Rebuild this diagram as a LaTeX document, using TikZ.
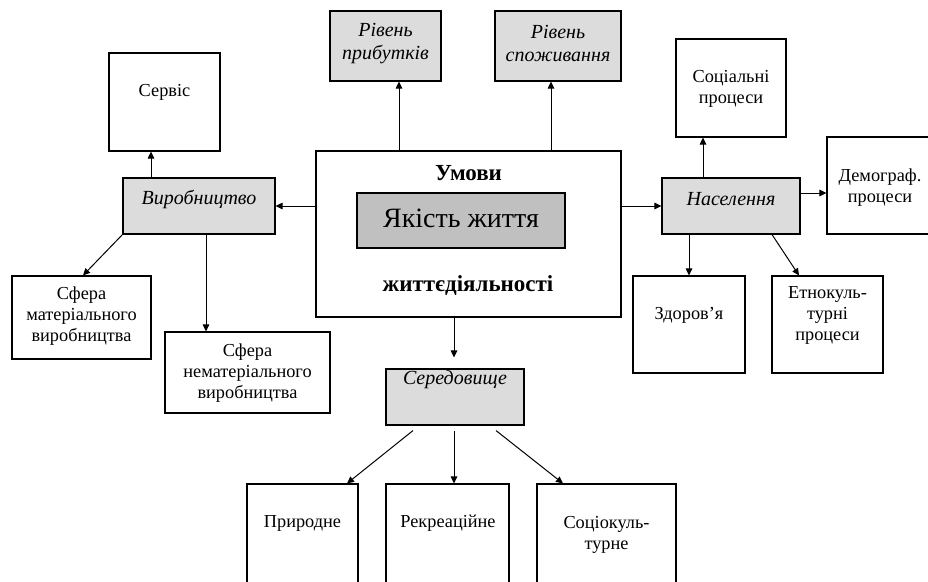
\documentclass[tikz,border=0pt]{standalone}
\usepackage{fontspec}
\setmainfont{Liberation Serif}
\usetikzlibrary{arrows.meta}
\definecolor{boxgray}{HTML}{DCDCDC}
\definecolor{coregray}{HTML}{C0C0C0}
\begin{document}
\begin{tikzpicture}[x=1pt,y=-1pt,
  box/.style={draw, line width=1.1pt, inner sep=0pt},
  gbox/.style={box, fill=boxgray},
  txt/.style={inner sep=0pt, align=center, font=\fontsize{18.3}{21}\selectfont},
  itxt/.style={inner sep=0pt, align=center, font=\fontsize{20}{23}\selectfont\itshape},
  btxt/.style={inner sep=0pt, align=center, font=\fontsize{23}{26}\selectfont\bfseries},
  arr/.style={line width=1pt, -{Triangle[length=7pt,width=6.5pt]}}]
\useasboundingbox (0,0) rectangle (928,581);
\clip (0,0) rectangle (928,581);
% boxes
\node[box, minimum width=111pt, minimum height=98pt] (serv) at (164.5,102) {};
\node[gbox, minimum width=152pt, minimum height=56pt] (vyr) at (199,206) {};
\node[box, minimum width=139pt, minimum height=83pt] (sf1) at (81.5,317.5) {};
\node[box, minimum width=165pt, minimum height=81pt] (sf2) at (247.5,372.5) {};
\node[gbox, minimum width=111pt, minimum height=70pt] (pryb) at (385.5,46) {};
\node[gbox, minimum width=126pt, minimum height=70pt] (spoz) at (558,46) {};
\node[box, minimum width=305pt, minimum height=166pt] (umovy) at (468.5,234) {};
\node[box, fill=coregray, minimum width=208pt, minimum height=55pt] (yak) at (461,220.5) {};
\node[gbox, minimum width=138pt, minimum height=56pt] (ser) at (455,397) {};
\node[box, minimum width=111pt, minimum height=116pt] (pryr) at (302.5,542) {};
\node[box, minimum width=123pt, minimum height=116pt] (rekr) at (447.5,542) {};
\node[box, minimum width=139pt, minimum height=116pt] (sots) at (606.5,542) {};
\node[box, minimum width=110pt, minimum height=98pt] (soc) at (731,88) {};
\node[gbox, minimum width=138pt, minimum height=56pt] (nas) at (731,206) {};
\node[box, minimum width=111pt, minimum height=97pt] (demo) at (882.5,185.5) {};
\node[box, minimum width=112pt, minimum height=97pt] (zdor) at (689,324.5) {};
\node[box, minimum width=111pt, minimum height=97pt] (etno) at (827.5,324.5) {};
% texts
\node[txt] (tserv) at (164.5,92) {Сервіс};
\node[itxt] (tvyr) at (199,199) {Виробництво};
\node[txt] (tsf1) at (81.5,316) {Сфера\\матеріального\\виробництва};
\node[txt] (tsf2) at (247.5,373) {Сфера\\нематеріального\\виробництва};
\node[itxt] (tpryb) at (385.5,43.5) {Рівень\\прибутків};
\node[itxt] (tspoz) at (558,43.5) {Рівень\\споживання};
\node[btxt] (tum1) at (468.5,173) {Умови};
\node[inner sep=0pt, font=\fontsize{28}{32}\selectfont] (tyak) at (461,218) {Якість життя};
\node[btxt] (tum2) at (468,286) {життєдіяльності};
\node[itxt] (tser) at (455,380) {Середовище};
\node[txt] (tpryr) at (302.5,523) {Природне};
\node[txt] (trekr) at (448,523) {Рекреаційне};
\node[txt] (tsots) at (606.5,535) {Соціокуль-\\турне};
\node[txt] (tsoc) at (731,89) {Соціальні\\процеси};
\node[itxt] (tnas) at (731,199) {Населення};
\node[txt] (tdemo) at (880,188) {Демограф.\\процеси};
\node[txt] (tzdor) at (689,315) {Здоров’я};
\node[txt] (tetno) at (827.5,315) {Етнокуль-\\турні\\процеси};
% connectors
\draw[arr] (umovy.west |- vyr.east) -- (vyr.east);
\draw[arr] ([shift={(-48,0)}]vyr.north) -- ([shift={(-13.5,0)}]serv.south);
\draw[arr] (vyr.south west) -- ([shift={(1.5,0)}]sf1.north);
\draw[arr] ([shift={(7,0)}]vyr.south) -- ([shift={(-41.5,0)}]sf2.north);
\draw[arr] ([shift={(-69.5,0)}]umovy.north) -- ([shift={(13.5,0)}]pryb.south);
\draw[arr] ([shift={(82.5,0)}]umovy.north) -- ([shift={(-7,0)}]spoz.south);
\draw[arr] (umovy.east |- nas.west) -- (nas.west);
\draw[arr] ([shift={(-28,0)}]nas.north) -- ([shift={(-28,0)}]soc.south);
\draw[arr] ([shift={(0,-13)}]nas.east) -- ([shift={(0,7.5)}]demo.west);
\draw[arr] ([shift={(-42,0)}]nas.south) -- (zdor.north);
\draw[arr] ([shift={(41,0)}]nas.south) -- ([shift={(-28.5,0)}]etno.north);
\draw[arr, shorten >=11pt] ([shift={(-14.5,0)}]umovy.south) -- ([shift={(-1,0)}]ser.north);
\draw[arr] ([shift={(-42,5)}]ser.south) -- ([shift={(44.5,0)}]pryr.north);
\draw[arr] ([shift={(-1,5)}]ser.south) -- ([shift={(6.5,0)}]rekr.north);
\draw[arr] ([shift={(41,5)}]ser.south) -- ([shift={(-43.5,0)}]sots.north);
\end{tikzpicture}
\end{document}
